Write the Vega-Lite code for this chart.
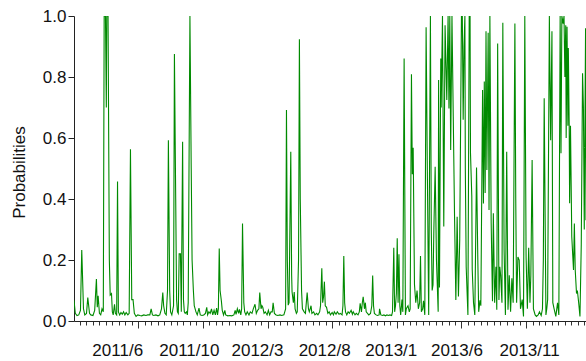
{
  "$schema": "https://vega.github.io/schema/vega-lite/v6.json",
  "width": 512,
  "height": 305,
  "autosize": {"type": "none"},
  "padding": {"left": 74, "top": 16, "right": 0, "bottom": 40},
  "background": "white",
  "config": {
    "view": {"stroke": null},
    "font": "Liberation Sans"
  },
  "data": {
    "values": [
      {"d":"2011-01-03","p":0.068},{"d":"2011-01-06","p":0.025},{"d":"2011-01-10","p":0.018},{"d":"2011-01-14","p":0.02},
      {"d":"2011-01-18","p":0.035},{"d":"2011-01-21","p":0.233},{"d":"2011-01-25","p":0.04},{"d":"2011-01-28","p":0.02},
      {"d":"2011-02-01","p":0.025},{"d":"2011-02-04","p":0.077},{"d":"2011-02-08","p":0.025},{"d":"2011-02-11","p":0.02},
      {"d":"2011-02-16","p":0.018},{"d":"2011-02-20","p":0.035},{"d":"2011-02-24","p":0.138},{"d":"2011-02-26","p":0.045},
      {"d":"2011-02-28","p":0.083},{"d":"2011-03-03","p":0.025},{"d":"2011-03-06","p":0.02},{"d":"2011-03-09","p":0.04},
      {"d":"2011-03-12","p":0.03},{"d":"2011-03-14","p":1.0},{"d":"2011-03-17","p":1.0},{"d":"2011-03-19","p":0.70},
      {"d":"2011-03-20","p":1.0},{"d":"2011-03-23","p":1.0},{"d":"2011-03-26","p":0.2},{"d":"2011-03-28","p":0.085},
      {"d":"2011-03-31","p":0.09},{"d":"2011-04-02","p":0.03},{"d":"2011-04-04","p":0.02},{"d":"2011-04-07","p":0.055},
      {"d":"2011-04-09","p":0.025},{"d":"2011-04-12","p":0.02},{"d":"2011-04-14","p":0.457},{"d":"2011-04-16","p":0.03},
      {"d":"2011-04-19","p":0.02},{"d":"2011-04-22","p":0.028},{"d":"2011-04-25","p":0.022},{"d":"2011-04-28","p":0.03},
      {"d":"2011-05-01","p":0.02},{"d":"2011-05-04","p":0.028},{"d":"2011-05-08","p":0.02},{"d":"2011-05-11","p":0.025},
      {"d":"2011-05-14","p":0.563},{"d":"2011-05-17","p":0.07},{"d":"2011-05-20","p":0.07},{"d":"2011-05-23","p":0.025},
      {"d":"2011-05-27","p":0.015},{"d":"2011-05-31","p":0.02},{"d":"2011-06-05","p":0.018},{"d":"2011-06-09","p":0.017},
      {"d":"2011-06-14","p":0.02},{"d":"2011-06-19","p":0.018},{"d":"2011-06-23","p":0.02},{"d":"2011-06-28","p":0.02},
      {"d":"2011-07-01","p":0.04},{"d":"2011-07-04","p":0.02},{"d":"2011-07-07","p":0.018},{"d":"2011-07-12","p":0.02},
      {"d":"2011-07-17","p":0.017},{"d":"2011-07-21","p":0.02},{"d":"2011-07-25","p":0.04},{"d":"2011-07-28","p":0.093},
      {"d":"2011-07-30","p":0.05},{"d":"2011-08-02","p":0.025},{"d":"2011-08-05","p":0.02},{"d":"2011-08-08","p":0.1},
      {"d":"2011-08-10","p":0.593},{"d":"2011-08-13","p":0.1},{"d":"2011-08-15","p":0.03},{"d":"2011-08-18","p":0.02},
      {"d":"2011-08-22","p":0.05},{"d":"2011-08-24","p":0.875},{"d":"2011-08-27","p":0.4},{"d":"2011-08-29","p":0.07},
      {"d":"2011-08-31","p":0.03},{"d":"2011-09-02","p":0.025},{"d":"2011-09-04","p":0.22},{"d":"2011-09-07","p":0.22},
      {"d":"2011-09-09","p":0.03},{"d":"2011-09-12","p":0.588},{"d":"2011-09-14","p":0.07},{"d":"2011-09-16","p":0.03},
      {"d":"2011-09-18","p":0.025},{"d":"2011-09-21","p":0.03},{"d":"2011-09-23","p":0.02},{"d":"2011-09-25","p":0.06},
      {"d":"2011-09-29","p":1.0},{"d":"2011-10-02","p":0.5},{"d":"2011-10-04","p":0.2},{"d":"2011-10-07","p":0.1},
      {"d":"2011-10-09","p":0.05},{"d":"2011-10-13","p":0.03},{"d":"2011-10-16","p":0.02},{"d":"2011-10-20","p":0.042},
      {"d":"2011-10-23","p":0.02},{"d":"2011-10-27","p":0.018},{"d":"2011-10-31","p":0.02},{"d":"2011-11-04","p":0.025},
      {"d":"2011-11-07","p":0.045},{"d":"2011-11-09","p":0.02},{"d":"2011-11-12","p":0.03},{"d":"2011-11-15","p":0.025},
      {"d":"2011-11-18","p":0.04},{"d":"2011-11-21","p":0.02},{"d":"2011-11-24","p":0.035},{"d":"2011-11-27","p":0.02},
      {"d":"2011-11-30","p":0.042},{"d":"2011-12-02","p":0.02},{"d":"2011-12-04","p":0.04},{"d":"2011-12-06","p":0.238},
      {"d":"2011-12-08","p":0.1},{"d":"2011-12-11","p":0.065},{"d":"2011-12-13","p":0.035},{"d":"2011-12-16","p":0.02},
      {"d":"2011-12-19","p":0.035},{"d":"2011-12-21","p":0.02},{"d":"2011-12-26","p":0.017},{"d":"2011-12-31","p":0.018},
      {"d":"2012-01-04","p":0.017},{"d":"2012-01-09","p":0.02},{"d":"2012-01-12","p":0.035},{"d":"2012-01-14","p":0.022},
      {"d":"2012-01-17","p":0.04},{"d":"2012-01-20","p":0.025},{"d":"2012-01-22","p":0.038},{"d":"2012-01-25","p":0.02},
      {"d":"2012-01-27","p":0.04},{"d":"2012-01-29","p":0.32},{"d":"2012-02-01","p":0.06},{"d":"2012-02-03","p":0.03},
      {"d":"2012-02-06","p":0.02},{"d":"2012-02-09","p":0.03},{"d":"2012-02-13","p":0.02},{"d":"2012-02-16","p":0.03},
      {"d":"2012-02-20","p":0.025},{"d":"2012-02-23","p":0.04},{"d":"2012-02-27","p":0.055},{"d":"2012-03-01","p":0.025},
      {"d":"2012-03-04","p":0.035},{"d":"2012-03-07","p":0.04},{"d":"2012-03-09","p":0.093},{"d":"2012-03-12","p":0.04},
      {"d":"2012-03-14","p":0.05},{"d":"2012-03-16","p":0.045},{"d":"2012-03-19","p":0.025},{"d":"2012-03-22","p":0.03},
      {"d":"2012-03-26","p":0.02},{"d":"2012-03-29","p":0.035},{"d":"2012-04-01","p":0.02},{"d":"2012-04-04","p":0.03},
      {"d":"2012-04-07","p":0.03},{"d":"2012-04-09","p":0.06},{"d":"2012-04-12","p":0.025},{"d":"2012-04-16","p":0.02},
      {"d":"2012-04-20","p":0.018},{"d":"2012-04-25","p":0.02},{"d":"2012-04-29","p":0.018},{"d":"2012-05-04","p":0.02},
      {"d":"2012-05-08","p":0.04},{"d":"2012-05-10","p":0.692},{"d":"2012-05-12","p":0.2},{"d":"2012-05-14","p":0.052},
      {"d":"2012-05-16","p":0.06},{"d":"2012-05-20","p":0.555},{"d":"2012-05-22","p":0.15},{"d":"2012-05-23","p":0.095},
      {"d":"2012-05-26","p":0.06},{"d":"2012-05-28","p":0.095},{"d":"2012-05-30","p":0.04},{"d":"2012-06-02","p":0.025},
      {"d":"2012-06-04","p":0.03},{"d":"2012-06-07","p":0.2},{"d":"2012-06-09","p":0.924},{"d":"2012-06-11","p":0.4},
      {"d":"2012-06-14","p":0.1},{"d":"2012-06-16","p":0.04},{"d":"2012-06-20","p":0.03},{"d":"2012-06-23","p":0.025},
      {"d":"2012-06-27","p":0.093},{"d":"2012-06-30","p":0.04},{"d":"2012-07-02","p":0.03},{"d":"2012-07-06","p":0.05},
      {"d":"2012-07-08","p":0.025},{"d":"2012-07-12","p":0.03},{"d":"2012-07-15","p":0.02},{"d":"2012-07-19","p":0.025},
      {"d":"2012-07-22","p":0.02},{"d":"2012-07-26","p":0.03},{"d":"2012-07-28","p":0.05},{"d":"2012-07-31","p":0.173},
      {"d":"2012-08-02","p":0.06},{"d":"2012-08-04","p":0.08},{"d":"2012-08-06","p":0.129},{"d":"2012-08-08","p":0.05},
      {"d":"2012-08-11","p":0.045},{"d":"2012-08-14","p":0.025},{"d":"2012-08-17","p":0.03},{"d":"2012-08-20","p":0.02},
      {"d":"2012-08-24","p":0.028},{"d":"2012-08-27","p":0.02},{"d":"2012-08-29","p":0.03},{"d":"2012-09-02","p":0.022},
      {"d":"2012-09-05","p":0.03},{"d":"2012-09-09","p":0.022},{"d":"2012-09-12","p":0.025},{"d":"2012-09-16","p":0.02},
      {"d":"2012-09-18","p":0.05},{"d":"2012-09-20","p":0.213},{"d":"2012-09-22","p":0.06},{"d":"2012-09-24","p":0.03},
      {"d":"2012-09-27","p":0.02},{"d":"2012-09-30","p":0.03},{"d":"2012-10-03","p":0.025},{"d":"2012-10-07","p":0.035},
      {"d":"2012-10-10","p":0.022},{"d":"2012-10-12","p":0.03},{"d":"2012-10-16","p":0.02},{"d":"2012-10-19","p":0.025},
      {"d":"2012-10-23","p":0.02},{"d":"2012-10-26","p":0.03},{"d":"2012-10-28","p":0.058},{"d":"2012-10-31","p":0.03},
      {"d":"2012-11-02","p":0.06},{"d":"2012-11-04","p":0.079},{"d":"2012-11-07","p":0.04},{"d":"2012-11-09","p":0.06},
      {"d":"2012-11-11","p":0.03},{"d":"2012-11-14","p":0.025},{"d":"2012-11-17","p":0.02},{"d":"2012-11-21","p":0.025},
      {"d":"2012-11-24","p":0.05},{"d":"2012-11-26","p":0.149},{"d":"2012-11-28","p":0.05},{"d":"2012-11-30","p":0.025},
      {"d":"2012-12-04","p":0.02},{"d":"2012-12-07","p":0.018},{"d":"2012-12-11","p":0.02},{"d":"2012-12-12","p":0.04},
      {"d":"2012-12-15","p":0.02},{"d":"2012-12-19","p":0.018},{"d":"2012-12-22","p":0.02},{"d":"2012-12-26","p":0.017},
      {"d":"2012-12-29","p":0.02},{"d":"2013-01-02","p":0.018},{"d":"2013-01-05","p":0.02},{"d":"2013-01-09","p":0.018},
      {"d":"2013-01-11","p":0.03},{"d":"2013-01-14","p":0.24},{"d":"2013-01-16","p":0.03},{"d":"2013-01-18","p":0.05},
      {"d":"2013-01-20","p":0.09},{"d":"2013-01-22","p":0.271},{"d":"2013-01-24","p":0.06},{"d":"2013-01-26","p":0.219},
      {"d":"2013-01-28","p":0.05},{"d":"2013-01-30","p":0.02},{"d":"2013-02-02","p":0.07},{"d":"2013-02-04","p":0.03},
      {"d":"2013-02-07","p":0.861},{"d":"2013-02-10","p":0.02},{"d":"2013-02-12","p":0.04},{"d":"2013-02-16","p":0.05},
      {"d":"2013-02-19","p":0.03},{"d":"2013-02-21","p":0.04},{"d":"2013-02-24","p":0.809},{"d":"2013-02-26","p":0.481},
      {"d":"2013-02-28","p":0.568},{"d":"2013-03-03","p":0.12},{"d":"2013-03-06","p":0.06},{"d":"2013-03-09","p":0.1},
      {"d":"2013-03-12","p":0.04},{"d":"2013-03-15","p":0.06},{"d":"2013-03-17","p":0.213},{"d":"2013-03-19","p":0.03},
      {"d":"2013-03-22","p":0.04},{"d":"2013-03-24","p":0.066},{"d":"2013-03-27","p":0.02},{"d":"2013-03-30","p":0.963},
      {"d":"2013-04-02","p":0.473},{"d":"2013-04-05","p":0.02},{"d":"2013-04-09","p":1.0},{"d":"2013-04-11","p":0.3},
      {"d":"2013-04-13","p":0.1},{"d":"2013-04-15","p":0.118},{"d":"2013-04-17","p":0.3},{"d":"2013-04-20","p":0.506},
      {"d":"2013-04-23","p":0.2},{"d":"2013-04-27","p":0.03},{"d":"2013-04-28","p":0.79},{"d":"2013-04-30","p":0.11},
      {"d":"2013-05-03","p":0.861},{"d":"2013-05-04","p":0.70},{"d":"2013-05-07","p":1.0},{"d":"2013-05-10","p":0.31},
      {"d":"2013-05-13","p":0.97},{"d":"2013-05-17","p":0.725},{"d":"2013-05-20","p":1.0},{"d":"2013-05-22","p":0.697},
      {"d":"2013-05-24","p":1.0},{"d":"2013-05-26","p":0.561},{"d":"2013-05-29","p":1.0},{"d":"2013-06-01","p":0.67},
      {"d":"2013-06-04","p":0.342},{"d":"2013-06-07","p":0.069},{"d":"2013-06-10","p":0.342},{"d":"2013-06-13","p":0.08},
      {"d":"2013-06-16","p":0.266},{"d":"2013-06-20","p":1.0},{"d":"2013-06-22","p":1.0},{"d":"2013-06-24","p":0.66},
      {"d":"2013-06-26","p":0.9},{"d":"2013-06-28","p":1.0},{"d":"2013-06-29","p":0.5},{"d":"2013-07-01","p":0.178},
      {"d":"2013-07-05","p":0.02},{"d":"2013-07-08","p":1.0},{"d":"2013-07-10","p":1.0},{"d":"2013-07-11","p":0.55},
      {"d":"2013-07-14","p":0.41},{"d":"2013-07-15","p":0.17},{"d":"2013-07-18","p":0.06},{"d":"2013-07-21","p":0.02},
      {"d":"2013-07-25","p":0.503},{"d":"2013-07-28","p":0.2},{"d":"2013-07-30","p":0.03},{"d":"2013-08-02","p":0.068},
      {"d":"2013-08-04","p":0.05},{"d":"2013-08-08","p":0.757},{"d":"2013-08-10","p":0.385},{"d":"2013-08-12","p":0.785},
      {"d":"2013-08-14","p":0.42},{"d":"2013-08-16","p":0.95},{"d":"2013-08-18","p":0.495},{"d":"2013-08-21","p":0.945},
      {"d":"2013-08-23","p":0.364},{"d":"2013-08-25","p":1.0},{"d":"2013-08-28","p":0.32},{"d":"2013-08-31","p":0.065},
      {"d":"2013-09-02","p":0.353},{"d":"2013-09-05","p":0.06},{"d":"2013-09-08","p":0.178},{"d":"2013-09-10","p":0.037},
      {"d":"2013-09-12","p":0.91},{"d":"2013-09-15","p":0.069},{"d":"2013-09-17","p":0.178},{"d":"2013-09-19","p":0.15},
      {"d":"2013-09-22","p":0.06},{"d":"2013-09-24","p":0.978},{"d":"2013-09-27","p":0.233},{"d":"2013-09-30","p":0.02},
      {"d":"2013-10-03","p":0.555},{"d":"2013-10-06","p":0.037},{"d":"2013-10-09","p":0.15},{"d":"2013-10-12","p":0.03},
      {"d":"2013-10-15","p":0.14},{"d":"2013-10-18","p":0.06},{"d":"2013-10-22","p":0.975},{"d":"2013-10-24","p":0.4},
      {"d":"2013-10-26","p":0.06},{"d":"2013-10-29","p":0.21},{"d":"2013-11-01","p":0.2},{"d":"2013-11-04","p":0.04},
      {"d":"2013-11-08","p":0.07},{"d":"2013-11-11","p":0.015},{"d":"2013-11-14","p":1.0},{"d":"2013-11-17","p":0.21},
      {"d":"2013-11-20","p":0.04},{"d":"2013-11-23","p":0.24},{"d":"2013-11-26","p":0.06},{"d":"2013-11-28","p":0.15},
      {"d":"2013-12-01","p":0.528},{"d":"2013-12-04","p":0.04},{"d":"2013-12-08","p":0.02},{"d":"2013-12-11","p":0.015},
      {"d":"2013-12-15","p":0.02},{"d":"2013-12-18","p":0.03},{"d":"2013-12-22","p":0.018},{"d":"2013-12-25","p":0.04},
      {"d":"2013-12-27","p":0.2},{"d":"2013-12-29","p":0.73},{"d":"2014-01-02","p":0.02},{"d":"2014-01-04","p":0.04},
      {"d":"2014-01-06","p":0.07},{"d":"2014-01-10","p":1.0},{"d":"2014-01-13","p":0.593},{"d":"2014-01-16","p":0.95},
      {"d":"2014-01-18","p":0.06},{"d":"2014-01-21","p":0.04},{"d":"2014-01-25","p":0.015},{"d":"2014-01-29","p":0.06},
      {"d":"2014-02-01","p":0.02},{"d":"2014-02-04","p":1.0},{"d":"2014-02-06","p":0.55},{"d":"2014-02-08","p":1.0},
      {"d":"2014-02-11","p":0.975},{"d":"2014-02-13","p":1.0},{"d":"2014-02-15","p":0.8},{"d":"2014-02-17","p":0.97},
      {"d":"2014-02-18","p":0.6},{"d":"2014-02-20","p":0.965},{"d":"2014-02-22","p":0.64},{"d":"2014-02-23","p":0.895},
      {"d":"2014-02-25","p":0.64},{"d":"2014-02-26","p":0.386},{"d":"2014-02-28","p":0.64},{"d":"2014-03-03","p":0.276},
      {"d":"2014-03-07","p":0.167},{"d":"2014-03-09","p":0.32},{"d":"2014-03-11","p":0.167},{"d":"2014-03-14","p":0.09},
      {"d":"2014-03-16","p":0.1},{"d":"2014-03-19","p":0.06},{"d":"2014-03-22","p":0.015},{"d":"2014-03-25","p":0.25},
      {"d":"2014-03-28","p":0.812},{"d":"2014-03-30","p":0.7},{"d":"2014-04-01","p":0.3},{"d":"2014-04-04","p":0.96},
      {"d":"2014-04-05","p":0.33}
    ]
  },
  "mark": {"type": "line", "color": "#008a00", "strokeWidth": 1.1, "clip": true},
  "encoding": {
    "x": {
      "field": "d",
      "type": "temporal",
      "scale": {
        "type": "utc",
        "domain": [
          {"year": 2011, "month": 1, "date": 3, "utc": true},
          {"year": 2014, "month": 4, "date": 5, "utc": true}
        ]
      },
      "axis": {
        "title": null,
        "grid": false,
        "domainColor": "#222",
        "tickColor": "#333",
        "labelOverlap": false,
        "labelFlush": false,
        "labelBound": false,
        "labelFont": "Liberation Sans",
        "labelFontSize": 17,
        "labelColor": "#111",
        "labelPadding": 14,
        "labelAlign": "center",
        "labelBaseline": "top",
        "tickSize": {
          "condition": {"test": "abs(((datum.value - utc(2011,5,1)) / 86400000) % 150) < 0.5", "value": 7},
          "value": 4
        },
        "labelOffset": {
          "condition": [
            {"test": "abs((datum.value - utc(2011,5,1)) / 86400000) < 0.5", "value": -21},
            {"test": "abs((datum.value - utc(2011,5,1)) / 86400000 - 150) < 0.5", "value": -14},
            {"test": "abs((datum.value - utc(2011,5,1)) / 86400000 - 300) < 0.5", "value": -10.5},
            {"test": "abs((datum.value - utc(2011,5,1)) / 86400000 - 450) < 0.5", "value": -8},
            {"test": "abs((datum.value - utc(2011,5,1)) / 86400000 - 600) < 0.5", "value": -6},
            {"test": "abs((datum.value - utc(2011,5,1)) / 86400000 - 750) < 0.5", "value": -5},
            {"test": "abs((datum.value - utc(2011,5,1)) / 86400000 - 900) < 0.5", "value": 3}
          ],
          "value": 0
        },
        "labelExpr": "abs(((datum.value - utc(2011,5,1)) / 86400000) % 150) < 0.5 ? utcFormat(datum.value, '%Y/%-m') : ''",
        "values": [
          {"year": 2011, "month": 1, "date": 17, "utc": true},
          {"year": 2011, "month": 2, "date": 1, "utc": true},
          {"year": 2011, "month": 2, "date": 16, "utc": true},
          {"year": 2011, "month": 3, "date": 3, "utc": true},
          {"year": 2011, "month": 3, "date": 18, "utc": true},
          {"year": 2011, "month": 4, "date": 2, "utc": true},
          {"year": 2011, "month": 4, "date": 17, "utc": true},
          {"year": 2011, "month": 5, "date": 2, "utc": true},
          {"year": 2011, "month": 5, "date": 17, "utc": true},
          {"year": 2011, "month": 6, "date": 1, "utc": true},
          {"year": 2011, "month": 6, "date": 16, "utc": true},
          {"year": 2011, "month": 7, "date": 1, "utc": true},
          {"year": 2011, "month": 7, "date": 16, "utc": true},
          {"year": 2011, "month": 7, "date": 31, "utc": true},
          {"year": 2011, "month": 8, "date": 15, "utc": true},
          {"year": 2011, "month": 8, "date": 30, "utc": true},
          {"year": 2011, "month": 9, "date": 14, "utc": true},
          {"year": 2011, "month": 9, "date": 29, "utc": true},
          {"year": 2011, "month": 10, "date": 14, "utc": true},
          {"year": 2011, "month": 10, "date": 29, "utc": true},
          {"year": 2011, "month": 11, "date": 13, "utc": true},
          {"year": 2011, "month": 11, "date": 28, "utc": true},
          {"year": 2011, "month": 12, "date": 13, "utc": true},
          {"year": 2011, "month": 12, "date": 28, "utc": true},
          {"year": 2012, "month": 1, "date": 12, "utc": true},
          {"year": 2012, "month": 1, "date": 27, "utc": true},
          {"year": 2012, "month": 2, "date": 11, "utc": true},
          {"year": 2012, "month": 2, "date": 26, "utc": true},
          {"year": 2012, "month": 3, "date": 12, "utc": true},
          {"year": 2012, "month": 3, "date": 27, "utc": true},
          {"year": 2012, "month": 4, "date": 11, "utc": true},
          {"year": 2012, "month": 4, "date": 26, "utc": true},
          {"year": 2012, "month": 5, "date": 11, "utc": true},
          {"year": 2012, "month": 5, "date": 26, "utc": true},
          {"year": 2012, "month": 6, "date": 10, "utc": true},
          {"year": 2012, "month": 6, "date": 25, "utc": true},
          {"year": 2012, "month": 7, "date": 10, "utc": true},
          {"year": 2012, "month": 7, "date": 25, "utc": true},
          {"year": 2012, "month": 8, "date": 9, "utc": true},
          {"year": 2012, "month": 8, "date": 24, "utc": true},
          {"year": 2012, "month": 9, "date": 8, "utc": true},
          {"year": 2012, "month": 9, "date": 23, "utc": true},
          {"year": 2012, "month": 10, "date": 8, "utc": true},
          {"year": 2012, "month": 10, "date": 23, "utc": true},
          {"year": 2012, "month": 11, "date": 7, "utc": true},
          {"year": 2012, "month": 11, "date": 22, "utc": true},
          {"year": 2012, "month": 12, "date": 7, "utc": true},
          {"year": 2012, "month": 12, "date": 22, "utc": true},
          {"year": 2013, "month": 1, "date": 6, "utc": true},
          {"year": 2013, "month": 1, "date": 21, "utc": true},
          {"year": 2013, "month": 2, "date": 5, "utc": true},
          {"year": 2013, "month": 2, "date": 20, "utc": true},
          {"year": 2013, "month": 3, "date": 7, "utc": true},
          {"year": 2013, "month": 3, "date": 22, "utc": true},
          {"year": 2013, "month": 4, "date": 6, "utc": true},
          {"year": 2013, "month": 4, "date": 21, "utc": true},
          {"year": 2013, "month": 5, "date": 6, "utc": true},
          {"year": 2013, "month": 5, "date": 21, "utc": true},
          {"year": 2013, "month": 6, "date": 5, "utc": true},
          {"year": 2013, "month": 6, "date": 20, "utc": true},
          {"year": 2013, "month": 7, "date": 5, "utc": true},
          {"year": 2013, "month": 7, "date": 20, "utc": true},
          {"year": 2013, "month": 8, "date": 4, "utc": true},
          {"year": 2013, "month": 8, "date": 19, "utc": true},
          {"year": 2013, "month": 9, "date": 3, "utc": true},
          {"year": 2013, "month": 9, "date": 18, "utc": true},
          {"year": 2013, "month": 10, "date": 3, "utc": true},
          {"year": 2013, "month": 10, "date": 18, "utc": true},
          {"year": 2013, "month": 11, "date": 2, "utc": true},
          {"year": 2013, "month": 11, "date": 17, "utc": true},
          {"year": 2013, "month": 12, "date": 2, "utc": true},
          {"year": 2013, "month": 12, "date": 17, "utc": true},
          {"year": 2014, "month": 1, "date": 1, "utc": true},
          {"year": 2014, "month": 1, "date": 16, "utc": true},
          {"year": 2014, "month": 1, "date": 31, "utc": true},
          {"year": 2014, "month": 2, "date": 15, "utc": true},
          {"year": 2014, "month": 3, "date": 2, "utc": true},
          {"year": 2014, "month": 3, "date": 17, "utc": true},
          {"year": 2014, "month": 4, "date": 1, "utc": true}
        ]
      }
    },
    "y": {
      "field": "p",
      "type": "quantitative",
      "scale": {"domain": [0, 1], "nice": false},
      "axis": {
        "title": "Probabilities",
        "values": [0, 0.2, 0.4, 0.6, 0.8, 1.0],
        "format": ".1f",
        "grid": false,
        "domainColor": "#222",
        "tickColor": "#222",
        "tickSize": 6,
        "labelPadding": 2,
        "labelFont": "Liberation Sans",
        "labelFontSize": 17,
        "labelColor": "#111",
        "titleFont": "Liberation Sans",
        "titleFontSize": 17,
        "titleFontWeight": "normal",
        "titleColor": "#111",
        "titleX": -46,
        "titleY": 156
      }
    }
  }
}
